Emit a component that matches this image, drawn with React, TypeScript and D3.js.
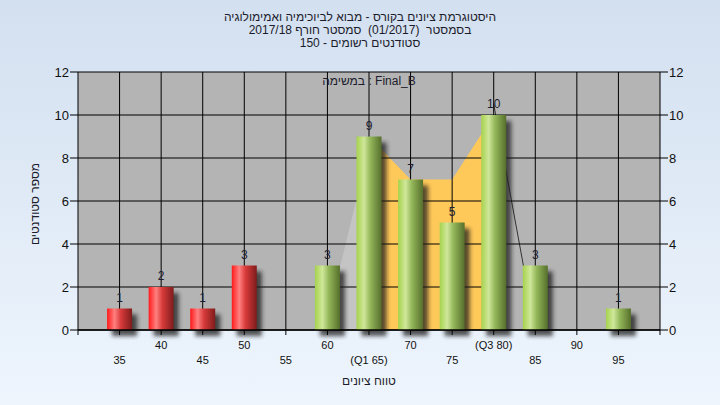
import React from "react";
import * as d3 from "d3";

const categories = [35, 40, 45, 50, 55, 60, 65, 70, 75, 80, 85, 90, 95];
const tickLabels = ["35", "40", "45", "50", "55", "60", "(Q1 65)", "70", "75", "(Q3 80)", "85", "90", "95"];
const counts = [1, 2, 1, 3, 0, 3, 9, 7, 5, 10, 3, 0, 1];
const passMark = 55;
const yTicks = [0, 2, 4, 6, 8, 10, 12];
// shaded distribution overlay
const leftShade = [{ c: 60, v: 0.5 }, { c: 65, v: 8.5 }];
const iqrShade = [{ c: 65, v: 9 }, { c: 70, v: 7 }, { c: 75, v: 7 }, { c: 80, v: 10 }];
const rightLine = [{ c: 80, v: 10.5 }, { c: 85, v: 0 }];

const titleLines = [
  "היסטוגרמת ציונים בקורס - מבוא לביוכימיה ואמימולוגיה",
  "בסמסטר  (01/2017)  סמסטר חורף 2017/18",
  "סטודנטים רשומים - 150",
];
const legendText = "במשימה : Final_B";
const xTitle = "טווח ציונים";
const yTitle = "מספר סטודנטים";

const W = 720, H = 405;
const L = 78, R = 660, T = 72, B = 330;

export default function App() {
  const x = d3.scalePoint<number>().domain(categories).range([L, R]).padding(1);
  const y = d3.scaleLinear().domain([0, 12]).range([B, T]);
  const bw = 25;
  const font = "'Liberation Sans', Arial, sans-serif";

  const area = d3.area<{ c: number; v: number }>()
    .x((d) => x(d.c)!)
    .y0(B)
    .y1((d) => y(d.v));
  const line = d3.line<{ c: number; v: number }>()
    .x((d) => x(d.c)!)
    .y((d) => y(d.v));

  return (
    <svg width={W} height={H} style={{ position: "absolute", left: 0, top: 0 }} fontFamily={font}>
      <defs>
        <linearGradient id="bg" x1="0" y1="0" x2="0" y2="1">
          <stop offset="0" stopColor="#d3e0f0" />
          <stop offset="1" stopColor="#eef5fd" />
        </linearGradient>
        <linearGradient id="red" x1="0" y1="0" x2="1" y2="0">
          <stop offset="0" stopColor="#ff1a1a" />
          <stop offset="0.3" stopColor="#ff8080" />
          <stop offset="0.55" stopColor="#d83a3a" />
          <stop offset="1" stopColor="#7e1c1c" />
        </linearGradient>
        <linearGradient id="green" x1="0" y1="0" x2="1" y2="0">
          <stop offset="0" stopColor="#a6d24c" />
          <stop offset="0.3" stopColor="#cfe79a" />
          <stop offset="0.55" stopColor="#94b75a" />
          <stop offset="1" stopColor="#566f2c" />
        </linearGradient>
        <filter id="shadow" x="-50%" y="-50%" width="200%" height="200%">
          <feGaussianBlur stdDeviation="2" />
        </filter>
      </defs>
      <rect x={0} y={0} width={W} height={H} fill="url(#bg)" />

      {titleLines.map((t, i) => (
        <text key={i} x={360} y={21 + i * 13} textAnchor="middle" fontSize={12} fill="#1c1c2c" direction="rtl" style={{ unicodeBidi: "plaintext", whiteSpace: "pre" } as any}>
          {t}
        </text>
      ))}

      {/* plot background */}
      <rect x={L} y={T} width={R - L} height={B - T} fill="#b4b4b4" />

      {/* overlay areas */}
      <path d={area(leftShade)!} fill="#c4c4c4" />
      <path d={area(iqrShade)!} fill="#ffc95a" />
      <path d={line(rightLine)!} fill="none" stroke="#333" strokeWidth={1} />

      {/* grid */}
      {yTicks.map((t) => (
        <line key={"h" + t} x1={L} x2={R} y1={y(t)} y2={y(t)} stroke="#000" strokeWidth={1} />
      ))}
      {categories.map((c) => (
        <line key={"v" + c} x1={x(c)!} x2={x(c)!} y1={T} y2={B} stroke="#000" strokeWidth={1} />
      ))}

      {/* shadows */}
      {counts.map((v, i) =>
        v > 0 ? (
          <rect key={"s" + i} x={x(categories[i])! - bw / 2 + 5} y={y(v) + 6} width={bw} height={B - y(v)} fill="#1a1a1a" opacity={0.75} filter="url(#shadow)" />
        ) : null
      )}

      {/* bars */}
      {counts.map((v, i) =>
        v > 0 ? (
          <rect key={"b" + i} x={x(categories[i])! - bw / 2} y={y(v)} width={bw} height={B - y(v)} fill={categories[i] < passMark ? "url(#red)" : "url(#green)"} />
        ) : null
      )}

      {/* value labels */}
      {counts.map((v, i) =>
        v > 0 ? (
          <text key={"l" + i} x={x(categories[i])!} y={y(v) - 7} textAnchor="middle" fontSize={12} fill="#1c1c30">
            {v}
          </text>
        ) : null
      )}

      {/* axes */}
      <line x1={L} x2={R} y1={B} y2={B} stroke="#000" strokeWidth={1.5} />
      <line x1={L} x2={L} y1={T} y2={B + 5} stroke="#000" strokeWidth={1} />
      <line x1={R} x2={R} y1={T} y2={B + 5} stroke="#000" strokeWidth={1} />
      {yTicks.map((t) => (
        <g key={"yt" + t}>
          <line x1={L - 8} x2={L} y1={y(t)} y2={y(t)} stroke="#000" />
          <line x1={R} x2={R + 8} y1={y(t)} y2={y(t)} stroke="#000" />
          <text x={L - 9} y={y(t) + 5} textAnchor="end" fontSize={13} fill="#111">{t}</text>
          <text x={R + 9} y={y(t) + 5} textAnchor="start" fontSize={13} fill="#111">{t}</text>
        </g>
      ))}
      {categories.map((c, i) => (
        <g key={"xt" + c}>
          <line x1={x(c)!} x2={x(c)!} y1={B} y2={B + 5} stroke="#000" />
          <text x={x(c)!} y={i % 2 === 1 ? 349 : 364} textAnchor="middle" fontSize={11} fill="#111">
            {tickLabels[i]}
          </text>
        </g>
      ))}

      <text x={(L + R) / 2} y={85} textAnchor="middle" fontSize={12} fill="#1c1c2c">{legendText}</text>
      <text x={(L + R) / 2} y={385} textAnchor="middle" fontSize={12} fill="#1c1c2c">{xTitle}</text>
      <text transform={`translate(39, ${(T + B) / 2 + 3}) rotate(-90)`} textAnchor="middle" fontSize={12} fill="#1c1c2c">{yTitle}</text>
    </svg>
  );
}
